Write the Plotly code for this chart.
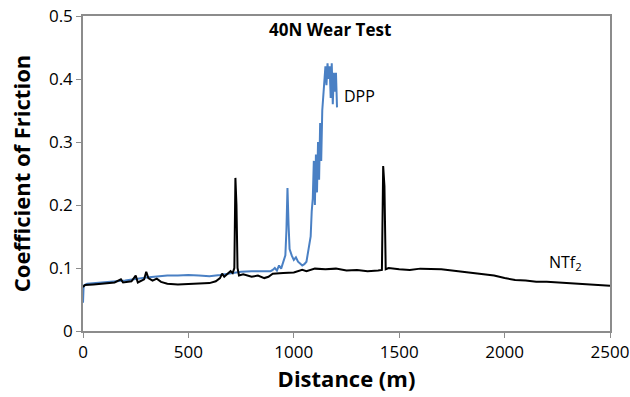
import plotly.graph_objects as go

ntf2_x = [0, 10, 50, 100, 150, 180, 190, 230, 250, 260, 290, 300, 310, 330, 350, 370, 400, 450, 500, 550,
          600, 630, 650, 660, 670, 690, 700, 710, 718, 723, 728, 733, 740, 760, 800, 830, 860, 880, 900, 950,
          1000, 1040, 1060, 1100, 1150, 1200, 1250, 1300, 1350, 1400, 1418, 1424, 1430, 1436, 1450, 1500,
          1550, 1600, 1650, 1700, 1750, 1800, 1850, 1900, 1950, 2000, 2050, 2100, 2150, 2200, 2250, 2300,
          2350, 2400, 2450, 2500]
ntf2_y = [0.070, 0.073, 0.074, 0.076, 0.077, 0.082, 0.077, 0.079, 0.088, 0.077, 0.082, 0.094, 0.084, 0.080,
          0.083, 0.078, 0.075, 0.074, 0.075, 0.075, 0.076, 0.079, 0.084, 0.091, 0.086, 0.092, 0.095, 0.092,
          0.100, 0.243, 0.200, 0.100, 0.088, 0.090, 0.086, 0.088, 0.084, 0.086, 0.091, 0.092, 0.093, 0.097,
          0.095, 0.099, 0.098, 0.099, 0.096, 0.097, 0.095, 0.096, 0.097, 0.262, 0.230, 0.098, 0.100, 0.098,
          0.097, 0.099, 0.099, 0.098, 0.096, 0.094, 0.092, 0.091, 0.088, 0.084, 0.081, 0.080, 0.078, 0.078,
          0.077, 0.076, 0.075, 0.074, 0.073, 0.072]

dpp_x = [0, 3, 20, 100, 200, 300, 350, 400, 450, 500, 550, 600, 650, 700, 750, 800, 850, 890, 900, 910,
         920, 930, 940, 950, 960, 965, 970, 975, 980, 990, 1000, 1010, 1020, 1030, 1040, 1050, 1060, 1070,
         1075, 1080, 1085, 1090, 1095, 1100, 1105, 1110, 1115, 1120, 1125, 1130, 1135, 1140, 1145, 1150,
         1155, 1160, 1165, 1170, 1175, 1180, 1185, 1190, 1195, 1200, 1205]
dpp_y = [0.045, 0.072, 0.075, 0.077, 0.080, 0.085, 0.087, 0.088, 0.088, 0.089, 0.088, 0.087, 0.089, 0.092,
         0.094, 0.095, 0.095, 0.095, 0.097, 0.100, 0.096, 0.104, 0.099, 0.110, 0.120, 0.160, 0.227, 0.170,
         0.130, 0.120, 0.113, 0.117, 0.110, 0.107, 0.104, 0.106, 0.110, 0.130, 0.145, 0.150, 0.190, 0.210,
         0.270, 0.200, 0.280, 0.220, 0.300, 0.240, 0.330, 0.270, 0.350, 0.380, 0.400, 0.420, 0.390, 0.425,
         0.400, 0.420, 0.370, 0.425, 0.360, 0.410, 0.380, 0.410, 0.355]

x_ticks = [0, 500, 1000, 1500, 2000, 2500]
y_ticks = [0, 0.1, 0.2, 0.3, 0.4, 0.5]
y_tick_labels = ["0", "0.1", "0.2", "0.3", "0.4", "0.5"]

FONT = "Open Sans"

fig = go.Figure()
fig.add_trace(go.Scatter(x=dpp_x, y=dpp_y, mode="lines", name="DPP",
                         line=dict(color="#4a80c4", width=2)))
fig.add_trace(go.Scatter(x=ntf2_x, y=ntf2_y, mode="lines", name="NTf2",
                         line=dict(color="#000000", width=2)))

fig.add_annotation(x=1172, y=0.479, text="<b>40N Wear Test</b>", showarrow=False,
                   font=dict(family=FONT, size=17, color="#000"))
fig.add_annotation(x=1310, y=0.373, text="DPP", showarrow=False,
                   font=dict(family=FONT, size=16, color="#000"))
fig.add_annotation(x=2287, y=0.108, text="NTf<sub>2</sub>", showarrow=False,
                   font=dict(family=FONT, size=16, color="#000"))

fig.update_layout(
    width=630, height=397,
    margin=dict(l=83, r=20, t=16, b=66, autoexpand=False),
    paper_bgcolor="white", plot_bgcolor="white",
    showlegend=False,
    font=dict(family=FONT, color="#000"),
    xaxis=dict(range=[0, 2500], tickvals=x_ticks, showgrid=False, zeroline=False,
               showline=True, linecolor="#8c8c8c", linewidth=1.5, mirror=True,
               ticks="outside", ticklen=5, tickcolor="#8c8c8c",
               tickfont=dict(family=FONT, size=17),
               title=dict(text="<b>Distance (m)</b>", font=dict(family=FONT, size=22), standoff=7)),
    yaxis=dict(range=[0, 0.5], tickvals=y_ticks, ticktext=y_tick_labels, showgrid=False, zeroline=False,
               showline=True, linecolor="#8c8c8c", linewidth=1.5, mirror=True,
               ticks="outside", ticklen=5, tickcolor="#8c8c8c",
               tickfont=dict(family=FONT, size=17),
               title=dict(text="<b>Coefficient of Friction</b>", font=dict(family=FONT, size=22), standoff=12)),
)

fig.write_html("out.html", config={"displayModeBar": False},
               post_script="document.body.style.margin='0';")
